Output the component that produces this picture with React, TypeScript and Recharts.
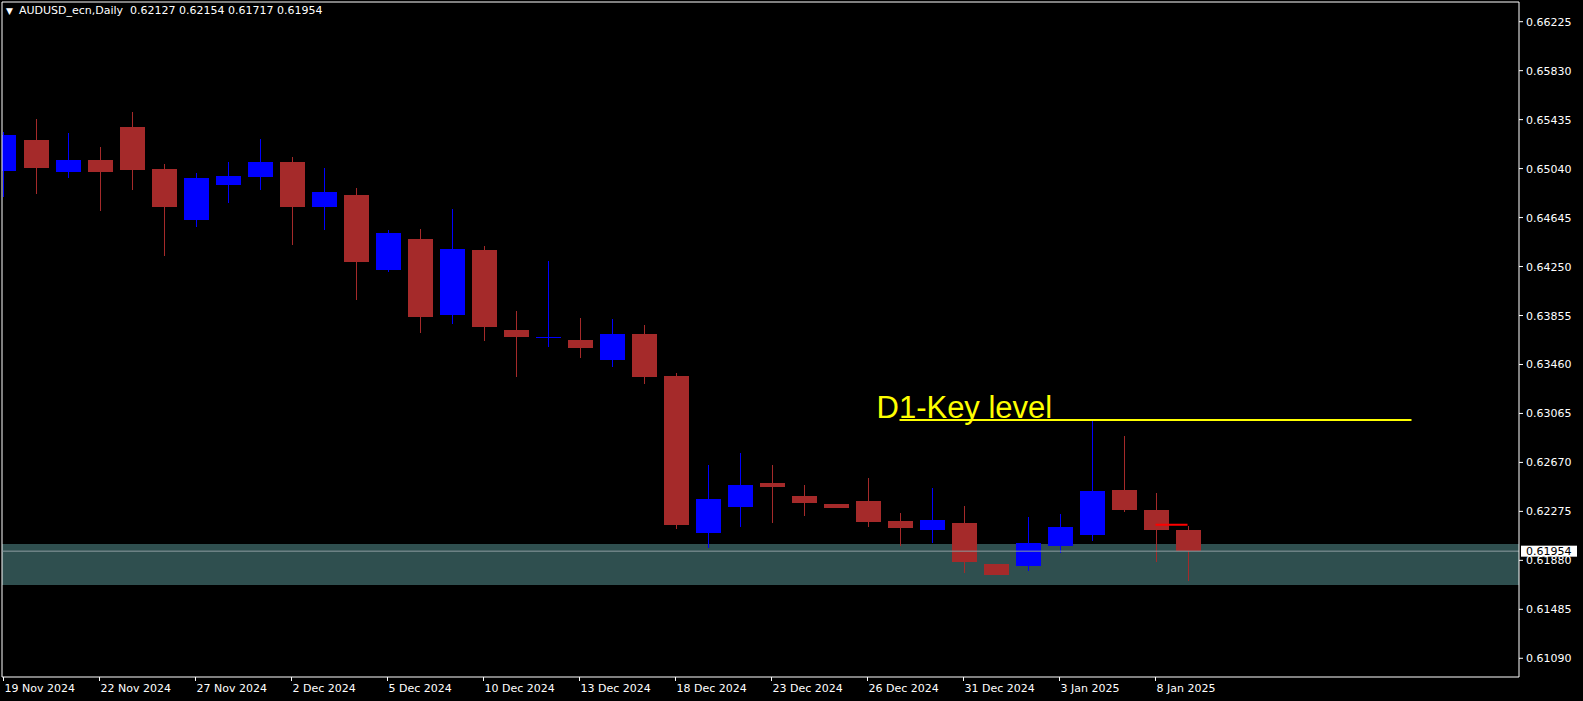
import { ComposedChart, Bar, XAxis, YAxis, ReferenceLine, ReferenceArea } from 'recharts'

// daily bars, AUDUSD
const dates = [
  '19 Nov 2024', '20 Nov 2024', '21 Nov 2024', '22 Nov 2024', '25 Nov 2024', '26 Nov 2024',
  '27 Nov 2024', '28 Nov 2024', '29 Nov 2024', '2 Dec 2024', '3 Dec 2024', '4 Dec 2024',
  '5 Dec 2024', '6 Dec 2024', '9 Dec 2024', '10 Dec 2024', '11 Dec 2024', '12 Dec 2024',
  '13 Dec 2024', '16 Dec 2024', '17 Dec 2024', '18 Dec 2024', '19 Dec 2024', '20 Dec 2024',
  '23 Dec 2024', '24 Dec 2024', '25 Dec 2024', '26 Dec 2024', '27 Dec 2024', '30 Dec 2024',
  '31 Dec 2024', '1 Jan 2025', '2 Jan 2025', '3 Jan 2025', '6 Jan 2025', '7 Jan 2025',
  '8 Jan 2025', '9 Jan 2025',
]
const opens = [
  0.65021, 0.65271, 0.65015, 0.65109, 0.65376, 0.65037, 0.64628, 0.64908, 0.64972, 0.65093,
  0.6473, 0.64827, 0.64225, 0.64472, 0.63859, 0.64383, 0.63738, 0.63677, 0.63657, 0.63496,
  0.63706, 0.63367, 0.62103, 0.62313, 0.62504, 0.62399, 0.62335, 0.62359, 0.62197, 0.62127,
  0.62181, 0.61851, 0.61837, 0.61998, 0.62085, 0.62447, 0.62286, 0.62127,
]
const highs = [
  0.65333, 0.6544, 0.65327, 0.65214, 0.65497, 0.65077, 0.65005, 0.65093, 0.65279, 0.65134,
  0.65045, 0.64886, 0.64545, 0.64553, 0.64714, 0.64416, 0.63891, 0.64295, 0.63835, 0.63827,
  0.63778, 0.63391, 0.62649, 0.62746, 0.62649, 0.62488, 0.62335, 0.62544, 0.62262, 0.62464,
  0.62318, 0.61851, 0.6223, 0.62254, 0.63002, 0.62883, 0.62423, 0.62154,
]
const lows = [
  0.64813, 0.64835, 0.64967, 0.647, 0.6487, 0.64337, 0.64571, 0.64765, 0.6487, 0.64424,
  0.64547, 0.6398, 0.64208, 0.63714, 0.63789, 0.63649, 0.63359, 0.63601, 0.63512, 0.6344,
  0.63303, 0.62135, 0.61982, 0.62147, 0.62184, 0.6224, 0.62302, 0.62151, 0.61998, 0.62018,
  0.6178, 0.61764, 0.61797, 0.61942, 0.62036, 0.62272, 0.61869, 0.61717,
]
const closes = [
  0.65311, 0.65045, 0.65109, 0.65015, 0.65029, 0.6473, 0.64964, 0.6498, 0.65093, 0.6473,
  0.64851, 0.64287, 0.64521, 0.63843, 0.64391, 0.63762, 0.63682, 0.63681, 0.63593, 0.63706,
  0.63359, 0.62168, 0.62375, 0.62488, 0.62474, 0.62343, 0.62302, 0.62189, 0.62143, 0.62205,
  0.61869, 0.61764, 0.62018, 0.62149, 0.62439, 0.62289, 0.62127, 0.61954,
]

const priceTicks = [
  0.6109, 0.61485, 0.6188, 0.62275, 0.6267, 0.63065, 0.6346, 0.63855, 0.6425, 0.64645,
  0.6504, 0.65435, 0.6583, 0.66225,
]
const dateTicks = [0, 3, 6, 9, 12, 15, 18, 21, 24, 27, 30, 33, 36]

const zone = [0.61681, 0.62012]
const bidPrice = 0.61954
const keyLevelPrice = 0.63012
const keyLevelBars = [28, 44]
const keyLevelText = 'D1-Key level'
const redMarkPrice = 0.62167
const redMarkBars = [36, 37]

const xDomain = [-0.046875, 47.359]
const yDomain = [0.60939, 0.663839]

const BULL = '#0000ff'
const BEAR = '#a52a2a'
const FONT = '"DejaVu Sans", sans-serif'

const data = dates.map((date, i) => ({
  i,
  date,
  open: opens[i],
  high: highs[i],
  low: lows[i],
  close: closes[i],
}))

function Candle(props: any) {
  const { x, y, width, height, payload } = props
  const { open, high, low, close } = payload
  const top = Math.min(y, y + height)
  const h = Math.abs(height)
  const k = high === low ? 0 : h / (high - low)
  const py = (p: number) => top + (high - p) * k
  const cx = x + width / 2
  const color = close >= open ? BULL : BEAR
  const bTop = Math.round(py(Math.max(open, close)))
  const bBot = Math.round(py(Math.min(open, close)))
  const wTop = Math.round(top)
  const wBot = Math.round(top + h)
  return (
    <g>
      <rect x={Math.floor(cx)} y={wTop} width={1} height={Math.max(1, wBot - wTop)} fill={color} />
      <rect x={Math.round(cx - 12.5)} y={bTop} width={25} height={Math.max(1, bBot - bTop)} fill={color} />
    </g>
  )
}

const PriceTick = ({ x, y, payload }: any) => (
  <text x={x} y={y} dy={4} fill="#fff" fontSize={11} fontFamily={FONT} textAnchor="start">
    {payload.value.toFixed(5)}
  </text>
)

const DateTick = ({ x, y, payload }: any) => (
  <text x={x + 1} y={y} dy={11} fill="#fff" fontSize={11} fontFamily={FONT} textAnchor="start">
    {dates[payload.value]}
  </text>
)

const BidLabel = ({ viewBox }: any) => {
  const bx = viewBox.x + viewBox.width + 2
  return (
    <g>
      <rect x={bx} y={viewBox.y - 5.5} width={56} height={11} fill="#fff" />
      <text x={bx + 5} y={viewBox.y + 4} fill="#000" fontSize={11} fontFamily={FONT}>
        {bidPrice.toFixed(5)}
      </text>
    </g>
  )
}

const KeyLabel = ({ viewBox }: any) => (
  <text
    x={viewBox.x - 23}
    y={viewBox.y - 2}
    fill="#ffff00"
    fontSize={31}
    fontFamily='"Liberation Sans", Arial, sans-serif'
  >
    {keyLevelText}
  </text>
)

export default function App() {
  return (
    <div style={{ position: 'fixed', left: 0, top: 0, width: 1583, height: 701, background: '#000' }}>
      <ComposedChart
        width={1583}
        height={701}
        data={data}
        margin={{ top: 2, right: 0, bottom: 0, left: 2 }}
      >
        <XAxis
          type="number"
          dataKey="i"
          domain={xDomain}
          ticks={dateTicks}
          interval={0}
          allowDataOverflow
          height={24}
          tickSize={4}
          tickMargin={0}
          stroke="#fff"
          tick={<DateTick />}
        />
        <YAxis
          orientation="right"
          type="number"
          domain={yDomain}
          ticks={priceTicks}
          interval={0}
          allowDataOverflow
          width={64}
          tickSize={4}
          tickMargin={3}
          stroke="#fff"
          tick={<PriceTick />}
        />
        <ReferenceArea y1={zone[0]} y2={zone[1]} fill="#2f4f4f" fillOpacity={1} stroke="none" />
        <ReferenceLine x={xDomain[0]} stroke="#fff" />
        <ReferenceLine y={yDomain[1]} stroke="#fff" />
        <ReferenceLine y={bidPrice} stroke="#8c9ca0" label={{ content: <BidLabel /> } as any} />
        <Bar
          dataKey={(d: any) => [d.low, d.high]}
          barSize={25}
          shape={<Candle />}
          isAnimationActive={false}
        />
        <ReferenceLine
          segment={[
            { x: redMarkBars[0], y: redMarkPrice },
            { x: redMarkBars[1], y: redMarkPrice },
          ]}
          stroke="#ff0000"
          strokeWidth={2}
        />
        <ReferenceLine
          segment={[
            { x: keyLevelBars[0], y: keyLevelPrice },
            { x: keyLevelBars[1], y: keyLevelPrice },
          ]}
          stroke="#ffff00"
          strokeWidth={2}
          label={{ content: <KeyLabel /> } as any}
        />
      </ComposedChart>
      <div
        style={{
          position: 'absolute',
          left: 6,
          top: 4,
          color: '#fff',
          fontFamily: FONT,
          fontSize: 11,
          whiteSpace: 'pre',
          lineHeight: '14px',
        }}
      >
        <span style={{ fontSize: 9, marginRight: 6 }}>▼</span>
        {'AUDUSD_ecn,Daily  0.62127 0.62154 0.61717 0.61954'}
      </div>
    </div>
  )
}
